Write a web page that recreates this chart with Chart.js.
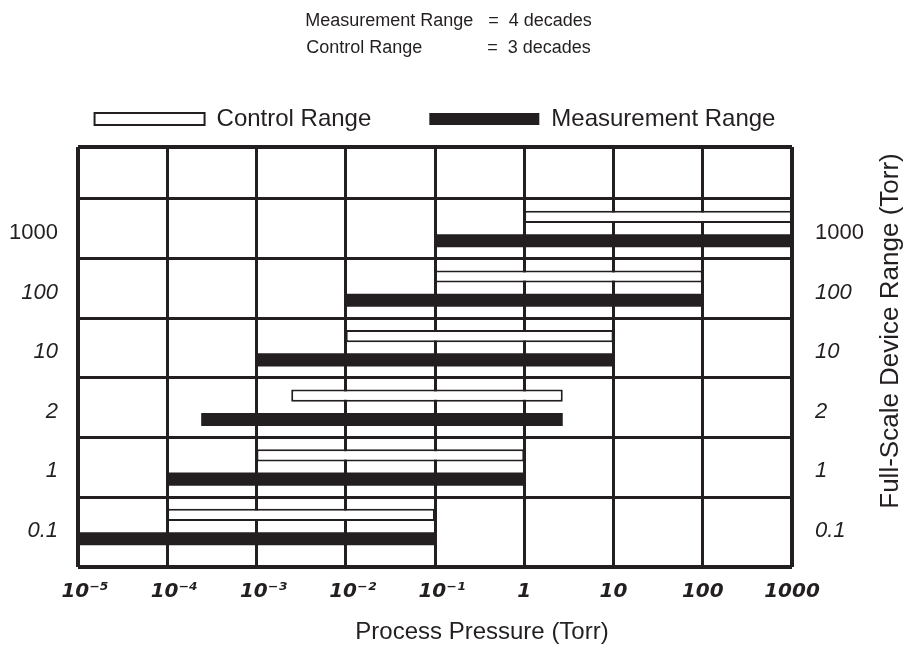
<!DOCTYPE html>
<html lang="en">
<head>
<meta charset="UTF-8">
<title>Full-Scale Device Range vs Process Pressure</title>
<script src="https://cdn.jsdelivr.net/npm/chart.js"></script>
<style>
  html, body { margin: 0; padding: 0; background: #fff; }
  canvas { display: block; }
</style>
</head>
<body>
<canvas id="chart" width="915" height="652"></canvas>
<script>
// data
const ranges = ['1000', '100', '10', '2', '1', '0.1'];
const controlRange = [[1, 1000], [0.1, 100], [0.01, 10], [0.00245, 2.7], [0.001, 1], [0.0001, 0.1]];
const measurementRange = [[0.1, 1000], [0.01, 100], [0.001, 10], [0.00024, 2.7], [0.0001, 1], [0.00001, 0.1]];
const pressureTicks = [1e-5, 1e-4, 1e-3, 1e-2, 1e-1, 1, 10, 100, 1000];
const pressureLabels = ['10⁻⁵', '10⁻⁴', '10⁻³', '10⁻²', '10⁻¹', '1', '10', '100', '1000'];
const seriesNames = ['Control Range', 'Measurement Range'];
const titleParts = [['Measurement Range', '=  4 decades'], ['Control Range', '=  3 decades']];
const xTitle = 'Process Pressure (Torr)';
const yTitle = 'Full-Scale Device Range (Torr)';

const ink = '#231f20';
const sans = '"Liberation Sans", Arial, sans-serif';

// top row is a bit shorter, bottom row a bit taller than the others
const yMin = -1.372, yMax = 5.674;

// pad the second title line so the "=" signs line up
function titleText() {
  const c = document.createElement('canvas').getContext('2d');
  c.font = '18px ' + sans;
  const first = titleParts[0][0] + '   ' + titleParts[0][1];
  const w = c.measureText(first).width;
  let head = titleParts[1][0] + ' ';
  let n = 0;
  while (c.measureText(head + ' ' + titleParts[1][1]).width <= w && n++ < 80) head += ' ';
  return [first, head + titleParts[1][1]];
}

const edgeWidth = (c, count) => (c.index === 0 || c.index === count - 1) ? 4 : 3;

const axisTitles = {
  id: 'axisTitles',
  afterDraw(chart) {
    const ctx = chart.ctx;
    ctx.save();
    ctx.fillStyle = ink;
    ctx.textAlign = 'center';
    ctx.textBaseline = 'middle';
    ctx.font = '24px ' + sans;
    ctx.fillText(xTitle, 482, 632);
    ctx.font = '26px ' + sans;
    ctx.translate(891, 331);
    ctx.rotate(-Math.PI / 2);
    ctx.fillText(yTitle, 0, 0);
    ctx.restore();
  }
};

const rowTicks = s => { s.ticks = ranges.map((_, i) => ({ value: i })); };
const rowFont = c => ({ family: sans, size: 22, style: c.index === 0 ? 'normal' : 'italic' });

new Chart(document.getElementById('chart'), {
  type: 'bar',
  data: {
    datasets: [
      {
        label: seriesNames[0],
        data: controlRange.map((r, i) => ({ x: r, y: i })),
        backgroundColor: '#ffffff',
        borderColor: ink,
        borderWidth: 2,
        borderSkipped: false,
        categoryPercentage: 0.917,
        barPercentage: 0.51
      },
      {
        label: seriesNames[1],
        data: measurementRange.map((r, i) => ({ x: r, y: i })),
        backgroundColor: ink,
        borderColor: ink,
        borderWidth: 0,
        borderSkipped: false,
        categoryPercentage: 0.917,
        barPercentage: 0.55
      }
    ]
  },
  options: {
    responsive: false,
    animation: false,
    indexAxis: 'y',
    events: [],
    layout: { padding: { top: 2, right: 18, bottom: 0, left: 0 } },
    plugins: {
      tooltip: { enabled: false },
      title: {
        display: true,
        text: titleText(),
        color: ink,
        font: { family: sans, size: 18, weight: 'normal', lineHeight: 1.5 },
        padding: { top: 5.5, bottom: 35.5 }
      },
      legend: {
        fullSize: false,
        labels: {
          color: ink,
          font: { family: sans, size: 24 },
          boxWidth: 110,
          boxHeight: 12,
          padding: 10,
          generateLabels: chart => {
            const items = Chart.defaults.plugins.legend.labels.generateLabels(chart);
            items[0].text += '\u2003\u2003';
            return items;
          }
        }
      }
    },
    scales: {
      x: {
        type: 'logarithmic',
        min: 1e-5,
        max: 1e3,
        afterBuildTicks: s => { s.ticks = pressureTicks.map(v => ({ value: v })); },
        afterFit: s => { s.height = 85; },
        grid: { color: ink, lineWidth: c => edgeWidth(c, pressureTicks.length), drawTicks: false },
        border: { display: false },
        ticks: {
          color: ink,
          padding: 13,
          autoSkip: false,
          maxRotation: 0,
          font: { family: '"DejaVu Sans", sans-serif', size: 20, weight: 'bold', style: 'italic' },
          callback: (v, i) => (pressureLabels[i].length > 3 && i < 5 ? '  ' : '') + pressureLabels[i]
        }
      },
      gap: {
        type: 'linear',
        position: 'top',
        ticks: { display: false },
        grid: { display: false, drawTicks: false },
        border: { display: false },
        afterFit: s => { s.height = 6; }
      },
      rows: {
        type: 'linear',
        position: 'left',
        reverse: true,
        offset: false,
        min: yMin,
        max: yMax,
        afterBuildTicks: s => {
          s.ticks = [yMin, ...ranges.map((_, i) => i - 0.5), yMax].map(v => ({ value: v }));
        },
        afterFit: s => { s.width = 0; },
        ticks: { display: false },
        grid: { color: ink, offset: false, lineWidth: c => edgeWidth(c, ranges.length + 2), drawTicks: false },
        border: { display: false }
      },
      y: {
        type: 'linear',
        position: 'left',
        reverse: true,
        offset: false,
        min: yMin,
        max: yMax,
        afterBuildTicks: rowTicks,
        afterFit: s => { s.width = 78; },
        grid: { display: false, offset: false, drawTicks: false },
        border: { display: false },
        ticks: { color: ink, padding: 20, labelOffset: 4, autoSkip: false, font: rowFont, callback: (v, i) => ranges[i] }
      },
      yRight: {
        type: 'linear',
        position: 'right',
        reverse: true,
        offset: false,
        min: yMin,
        max: yMax,
        afterBuildTicks: rowTicks,
        afterFit: s => { s.width = 105; },
        grid: { display: false, offset: false, drawTicks: false },
        border: { display: false },
        ticks: { color: ink, padding: 23, labelOffset: 4, autoSkip: false, font: rowFont, callback: (v, i) => ranges[i] }
      }
    }
  },
  plugins: [axisTitles]
});
</script>
</body>
</html>
